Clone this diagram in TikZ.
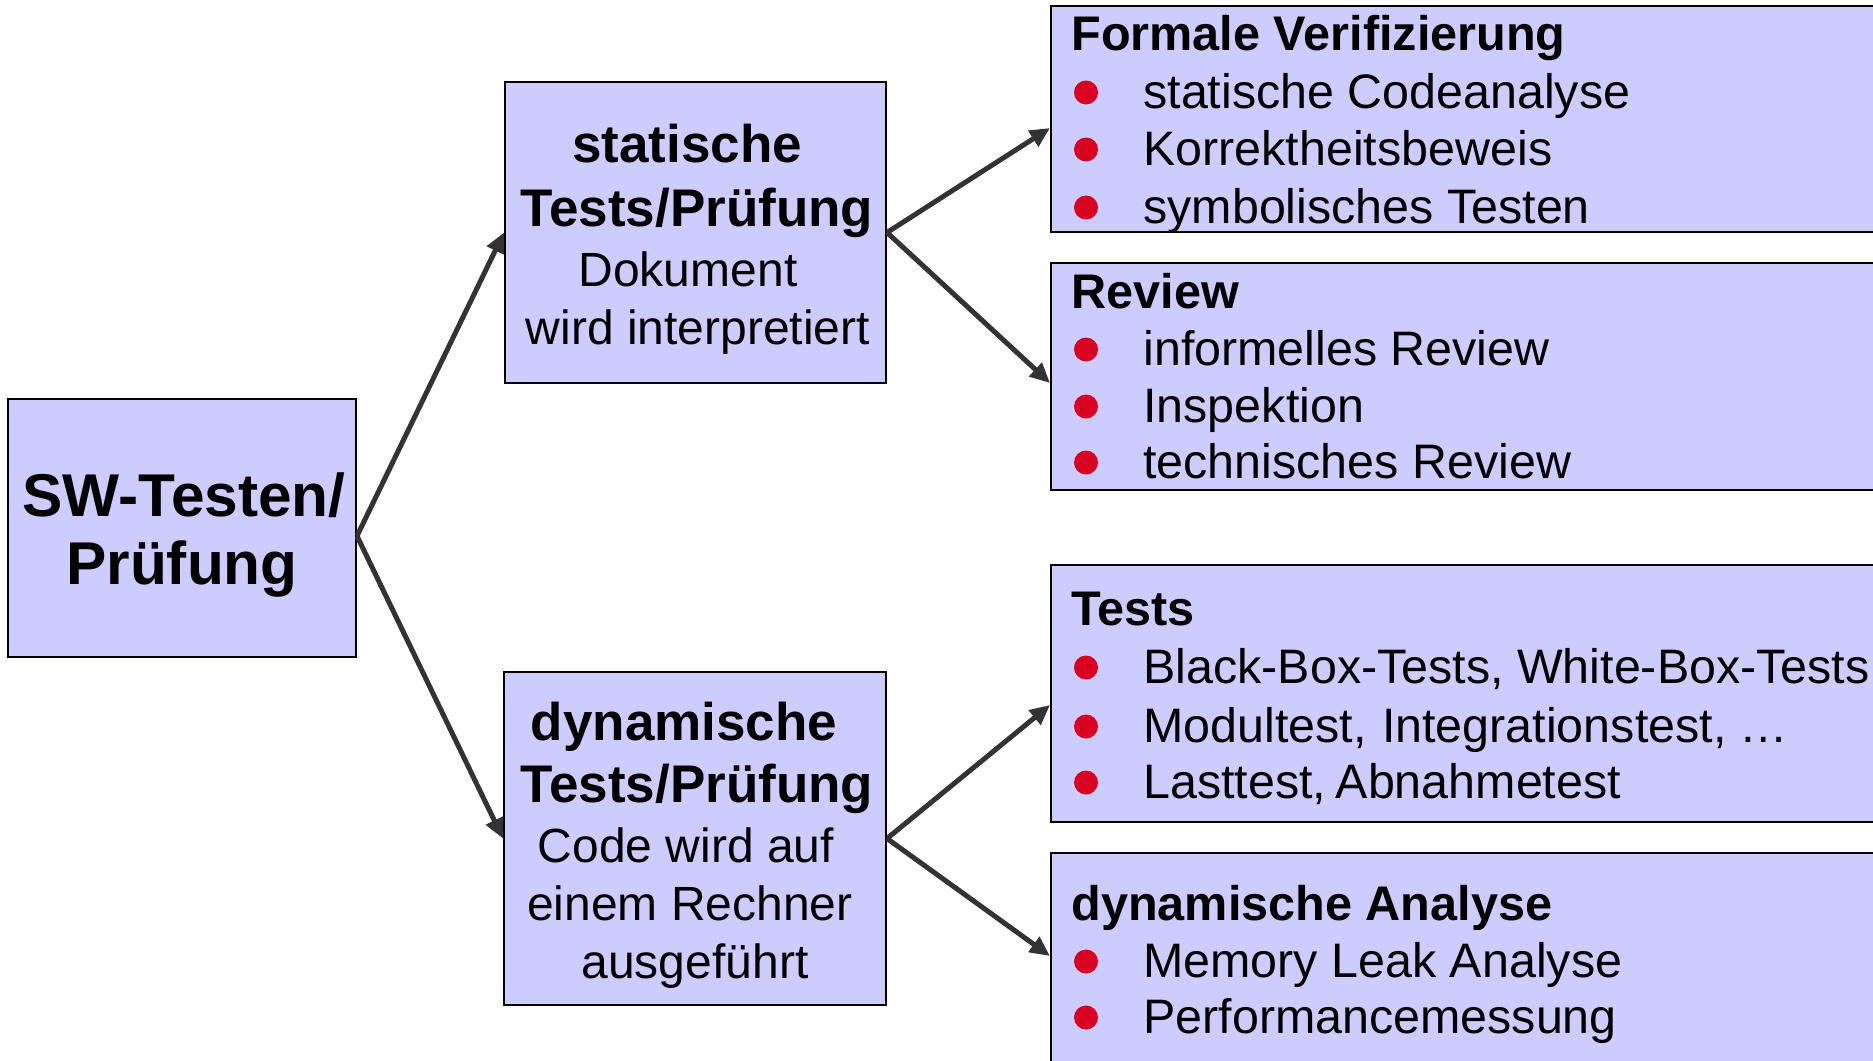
\documentclass[tikz,border=0pt]{standalone}
\usepackage{fontspec}
\setmainfont{Liberation Sans}
\usetikzlibrary{arrows.meta,fit,calc}
\definecolor{boxfill}{RGB}{204,204,255}
\definecolor{bulletred}{RGB}{217,0,33}
\definecolor{arrowgray}{RGB}{51,51,51}

% one bullet line of a category box: name, baseline y, text
\newcommand\bitem[3]{%
  \node[dot] (#1b) at (1086,#2-15.5) {};
  \node[item] (#1) at (1143,#2) {#3};}

\begin{document}
\begin{tikzpicture}[x=0.5pt,y=-0.5pt,
  box/.style={draw=black, line width=1pt, fill=boxfill, inner sep=0pt},
  link/.style={draw=arrowgray, line width=2.5pt, -{Triangle[length=10pt,width=9pt]}},
  head/.style={anchor=base west, inner sep=0pt, font=\fontsize{24.3}{28}\selectfont\bfseries},
  item/.style={anchor=base west, inner sep=0pt, font=\fontsize{24.2}{28}\selectfont},
  dot/.style={circle, fill=bulletred, inner sep=0pt, minimum size=12pt},
  midbold/.style={anchor=base, inner sep=0pt, font=\fontsize{26.5}{30}\selectfont\bfseries},
  midtext/.style={anchor=base, inner sep=0pt, font=\fontsize{24}{28}\selectfont},
  rootbold/.style={anchor=base, inner sep=0pt, font=\fontsize{30.2}{34}\selectfont\bfseries}]
\useasboundingbox (0,0) rectangle (1873,1060);
\clip (0,0) rectangle (1873,1060);

% boxes
\node[box, fit={(8,399) (356,657)}] (sw) {};
\node[box, fit={(505,82) (886,383)}] (stat) {};
\node[box, fit={(504,672) (886,1005)}] (dyn) {};
\node[box, fit={(1051,6) (1895,232)}] (formal) {};
\node[box, fit={(1051,263) (1895,490)}] (review) {};
\node[box, fit={(1051,565) (1895,822)}] (tests) {};
\node[box, fit={(1051,853) (1895,1080)}] (dyna) {};

% root
\node[rootbold] (sw1) at (184,516) {SW-Testen/};
\node[rootbold] (sw2) at (182,584) {Prüfung};

% static branch
\node[midbold] (st1) at (687,162) {statische};
\node[midbold] (st2) at (697,226) {Tests/Prüfung};
\node[midtext] (st3) at (688,286) {Dokument};
\node[midtext] (st4) at (698,344) {wird interpretiert};

% dynamic branch
\node[midbold] (dy1) at (684,740) {dynamische};
\node[midbold] (dy2) at (697,802) {Tests/Prüfung};
\node[midtext] (dy3) at (686,862) {Code wird auf};
\node[midtext] (dy4) at (690,920) {einem Rechner};
\node[midtext] (dy5) at (695,978) {ausgeführt};

% categories
\node[head] (fvh) at (1071,50) {Formale Verifizierung};
\bitem{fv1}{108}{statische Codeanalyse}
\bitem{fv2}{165}{Korrektheitsbeweis}
\bitem{fv3}{223}{symbolisches Testen}

\node[head] (rvh) at (1071,308) {Review};
\bitem{rv1}{365}{informelles Review}
\bitem{rv2}{422}{Inspektion}
\bitem{rv3}{478}{technisches Review}

\node[head] (tsh) at (1071,625) {Tests};
\bitem{ts1}{683}{Black-Box-Tests, White-Box-Tests}
\bitem{ts2}{742}{Modultest,\kern1pt\ Integrationstest, …}
\bitem{ts3}{798}{Lasttest,\kern-2pt\ Abnahmetest}

\node[head] (dah) at (1071,920) {dynamische Analyse};
\bitem{da1}{977}{Memory Leak Analyse}
\bitem{da2}{1033}{Performancemessung}

% connectors
\draw[link] ($(sw.east)+(0,8)$) -- (stat.west);
\draw[link] ($(sw.east)+(0,8)$) -- (dyn.west);
\draw[link] (stat.east) -- ($(formal.west)+(0,9)$);
\draw[link] (stat.east) -- ($(review.west)+(0,6.5)$);
\draw[link] (dyn.east) -- ($(tests.west)+(0,11.5)$);
\draw[link] (dyn.east) -- ($(dyna.west)+(0,-10.5)$);
\end{tikzpicture}
\end{document}
